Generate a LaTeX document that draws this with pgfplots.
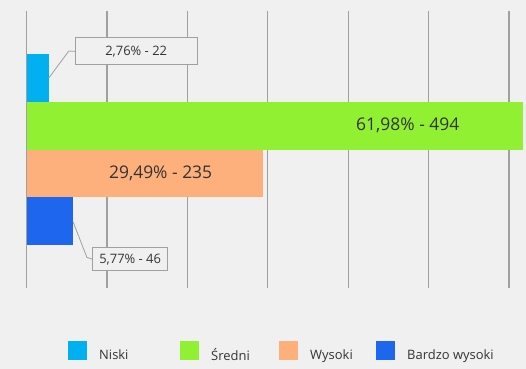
\documentclass[border=0pt]{standalone}
\usepackage{fontspec}
\setmainfont{Open Sans}
\usepackage{pgfplots}
\pgfplotsset{compat=1.18}
\definecolor{bg}{HTML}{F0F0F0}
\definecolor{niski}{HTML}{00B0F0}
\definecolor{sredni}{HTML}{92F032}
\definecolor{wysoki}{HTML}{FDB07B}
\definecolor{bwysoki}{HTML}{1F66EE}
\definecolor{gridc}{HTML}{A0A0A0}
\definecolor{txt}{HTML}{333333}
\pgfplotsset{myleg/.style={legend image code/.code={\path[##1,draw=none] (0bp,-5bp) rectangle (19bp,14bp); \path (31bp,0bp);}}}
\begin{document}
\begin{tikzpicture}
\fill[bg] (0,0) rectangle (526bp,369bp);
\begin{axis}[
 at={(26.7bp,80.7bp)}, anchor=south west,
 scale only axis, width=498.3bp, height=277.6bp,
 xmin=0, xmax=496, ymin=-1.408, ymax=4.40, y dir=reverse,
 xbar, bar width=1, bar shift=0pt,
 axis line style={draw=none},
 xtick={0,80,...,480}, ytick=\empty, xticklabels={}, major tick length=0pt,
 xmajorgrids, grid style={gridc, line width=1.2bp},
 clip=false,
 legend columns=4,
 legend style={at={(0.0829,-0.2286)}, anchor=west, draw=none, fill=none, inner sep=0pt,
   column sep=0pt, font=\fontsize{13}{15}\selectfont, text=txt, nodes={inner sep=0pt}},
]
\addplot[fill=niski, draw=none, myleg] coordinates {(22,0)};
\addlegendentry{\makebox[81bp][l]{Niski}}
\addplot[fill=sredni, draw=none, myleg] coordinates {(494,1)};
\addlegendentry{\makebox[68bp][l]{Średni}}
\addplot[fill=wysoki, draw=none, myleg] coordinates {(235,2)};
\addlegendentry{\makebox[66bp][l]{Wysoki}}
\addplot[fill=bwysoki, draw=none, myleg] coordinates {(46,3)};
\addlegendentry{Bardzo wysoki}

\node[draw=gridc, fill=bg, line width=0.8bp, minimum width=122bp, minimum height=27bp, inner sep=0pt,
  font=\fontsize{13}{15}\selectfont, text=txt] (b1) at (axis cs:109,-0.557) {2,76\% - 22};
\draw[gridc, line width=0.8bp] (axis cs:22,0) -- ++(20bp,27bp) -- (b1.west);
\node[draw=gridc, fill=bg, line width=0.8bp, minimum width=74.6bp, minimum height=22.7bp, inner sep=0pt,
  font=\fontsize{13}{15}\selectfont, text=txt] (b2) at (axis cs:103,3.79) {5,77\% - 46};
\draw[gridc, line width=0.8bp] (axis cs:46,3) -- ++(14bp,-36bp) -- (b2.west);
\node[font=\fontsize{17.5}{20}\selectfont, text=txt] at (axis cs:379.3,1) {61,98\% - 494};
\node[font=\fontsize{17.5}{20}\selectfont, text=txt] at (axis cs:133.3,2) {29,49\% - 235};
\end{axis}
\end{tikzpicture}
\end{document}
